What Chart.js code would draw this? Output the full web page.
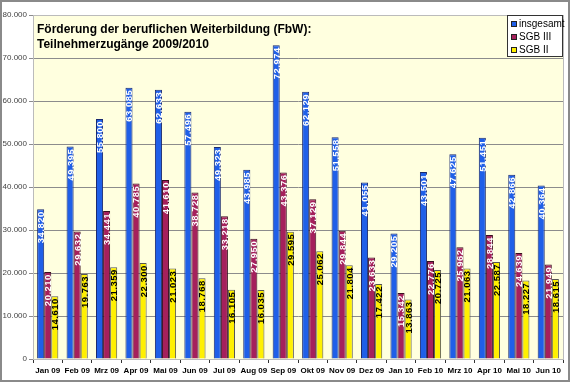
<!DOCTYPE html>
<html>
<head>
<meta charset="utf-8">
<script src="https://cdn.jsdelivr.net/npm/chart.js@4"></script>
<style>
  html, body { margin: 0; padding: 0; background: #fff; }
  #wrap { width: 570px; height: 382px; }
</style>
</head>
<body>
<div id="wrap"><canvas id="chart" width="570" height="382"></canvas></div>
<script>
const months = ["Jan 09", "Feb 09", "Mrz 09", "Apr 09", "Mai 09", "Jun 09", "Jul 09", "Aug 09", "Sep 09",
  "Okt 09", "Nov 09", "Dez 09", "Jan 10", "Feb 10", "Mrz 10", "Apr 10", "Mai 10", "Jun 10"];
const insgesamt = [34820, 49395, 55800, 63085, 62633, 57496, 49323, 43985, 72974,
  62129, 51558, 41055, 29205, 43501, 47625, 51451, 42866, 40364];
const sgb3 = [20210, 29632, 34441, 40785, 41610, 38728, 33218, 27950, 43376,
  37129, 29844, 23633, 15342, 22776, 25962, 28844, 24639, 21949];
const sgb2 = [14610, 19763, 21359, 22300, 21023, 18768, 16105, 16035, 29595,
  25062, 21804, 17422, 13863, 20725, 21063, 22587, 18227, 18615];
const titleLines = ["Förderung der beruflichen Weiterbildung (FbW):", "Teilnehmerzugänge 2009/2010"];

const fmt = v => String(v).replace(/\B(?=(\d{3})+(?!\d))/g, ".");

// background, frame, plot fill
const backdrop = {
  id: "backdrop",
  beforeDraw(chart) {
    const { ctx, chartArea: a } = chart;
    ctx.save();
    ctx.fillStyle = "#fff";
    ctx.fillRect(0, 0, chart.width, chart.height);
    ctx.fillStyle = "#FFFFDF";
    ctx.fillRect(a.left, a.top, a.right - a.left, a.bottom - a.top);
    ctx.restore();
  },
  afterDraw(chart) {
    const { ctx, chartArea: a } = chart;
    ctx.save();
    ctx.strokeStyle = "#bbb";
    ctx.lineWidth = 1;
    ctx.strokeRect(a.left + 0.5, a.top + 0.5, a.right - a.left, a.bottom - a.top);
    ctx.strokeStyle = "#8a8a8a";
    ctx.lineWidth = 2;
    ctx.strokeRect(1, 1, chart.width - 2, chart.height - 2);
    ctx.restore();
  }
};

// rotated value labels inside bar tops
const barLabels = {
  id: "barLabels",
  afterDatasetsDraw(chart) {
    const ctx = chart.ctx;
    ctx.save();
    ctx.font = "bold 9.5px 'Liberation Sans', Arial, sans-serif";
    ctx.letterSpacing = "0.5px";
    ctx.textAlign = "right";
    ctx.textBaseline = "alphabetic";
    chart.data.datasets.forEach((ds, i) => {
      const meta = chart.getDatasetMeta(i);
      ctx.fillStyle = i === 2 ? "#000" : "#fff";
      meta.data.forEach((bar, j) => {
        ctx.save();
        ctx.translate(bar.x, bar.y + 2);
        ctx.rotate(-Math.PI / 2);
        ctx.fillText(fmt(ds.data[j]), 0, 3.4);
        ctx.restore();
      });
    });
    ctx.restore();
  }
};

// title and legend drawn inside the plot
const overlay = {
  id: "overlay",
  afterDraw(chart) {
    const { ctx, chartArea: a } = chart;
    ctx.save();
    ctx.fillStyle = "#000";
    ctx.font = "bold 12px 'Liberation Sans', Arial, sans-serif";
    ctx.textBaseline = "alphabetic";
    ctx.fillText(titleLines[0], a.left + 4, a.top + 18);
    ctx.fillText(titleLines[1], a.left + 4, a.top + 33);

    const bx = a.right - 56, by = a.top, bw = 56, bh = 42;
    ctx.fillStyle = "#fff";
    ctx.fillRect(bx, by, bw, bh);
    ctx.strokeStyle = "#333";
    ctx.lineWidth = 1;
    ctx.strokeRect(bx + 0.5, by + 0.5, bw - 1, bh - 1);
    ctx.font = "10px 'Liberation Sans', Arial, sans-serif";
    ctx.textBaseline = "middle";
    chart.data.datasets.forEach((ds, i) => {
      const y = by + 9 + i * 13;
      ctx.fillStyle = ds.backgroundColor;
      ctx.fillRect(bx + 4, y - 3, 6, 6);
      ctx.strokeStyle = "#222";
      ctx.strokeRect(bx + 4.5, y - 2.5, 5, 5);
      ctx.fillStyle = "#000";
      ctx.fillText(ds.label, bx + 12, y);
    });
    ctx.restore();
  }
};

new Chart(document.getElementById("chart"), {
  type: "bar",
  data: {
    labels: months,
    datasets: [
      { label: "insgesamt", data: insgesamt, backgroundColor: "#1F5FE8", borderColor: "#1a2a70", borderWidth: 1 },
      { label: "SGB III", data: sgb3, backgroundColor: "#A5205C", borderColor: "#3a1020", borderWidth: 1 },
      { label: "SGB II", data: sgb2, backgroundColor: "#FFF000", borderColor: "#555", borderWidth: 1 }
    ]
  },
  options: {
    responsive: false,
    animation: false,
    layout: { padding: { top: 15, right: 7, left: 0, bottom: 0 } },
    datasets: { bar: { categoryPercentage: 0.72, barPercentage: 1 } },
    plugins: {
      legend: { display: false },
      title: { display: false },
      tooltip: { enabled: false }
    },
    scales: {
      x: {
        afterFit: s => { s.height = 23; },
        grid: { display: true, drawOnChartArea: false, tickLength: 4, color: "#333", offset: true },
        border: { color: "#333" },
        ticks: {
          color: "#000",
          padding: 3,
          maxRotation: 0,
          autoSkip: false,
          font: { family: "'Liberation Sans', Arial, sans-serif", size: 8, weight: "bold" }
        }
      },
      y: {
        min: 0,
        max: 80000,
        afterFit: s => { s.width = 33; },
        grid: { color: "#8c8c8c", tickLength: 4, lineWidth: 1 },
        border: { color: "#333" },
        ticks: {
          stepSize: 10000,
          color: "#444",
          padding: 2,
          callback: v => fmt(v),
          font: { family: "'Liberation Sans', Arial, sans-serif", size: 8 }
        }
      }
    }
  },
  plugins: [backdrop, barLabels, overlay]
});
</script>
</body>
</html>
